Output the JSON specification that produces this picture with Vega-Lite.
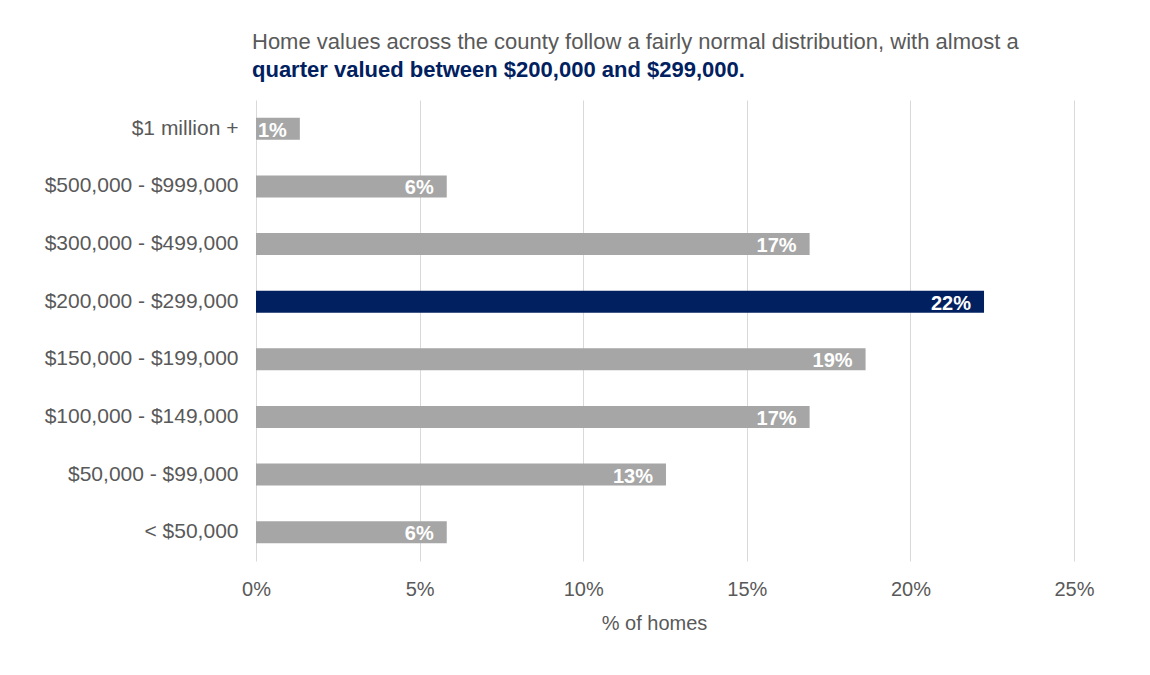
{
  "$schema": "https://vega.github.io/schema/vega-lite/v6.json",
  "autosize": {"type": "none"},
  "padding": {"left": 256, "top": 100, "right": 76, "bottom": 114},
  "width": 818,
  "height": 461,
  "background": "white",
  "title": {
    "text": "Home values across the county follow a fairly normal distribution, with almost a",
    "subtitle": "quarter valued between $200,000 and $299,000.",
    "anchor": "start",
    "frame": "group",
    "dx": -4,
    "offset": 18,
    "font": "Liberation Sans",
    "fontSize": 22,
    "fontWeight": "normal",
    "color": "#595959",
    "subtitleFont": "Liberation Sans",
    "subtitleFontSize": 22,
    "subtitleFontWeight": "bold",
    "subtitleColor": "#002060",
    "subtitlePadding": 6
  },
  "data": {
    "values": [
      {"range": "$1 million +", "pct": 1.34, "label": "1%"},
      {"range": "$500,000 - $999,000", "pct": 5.83, "label": "6%"},
      {"range": "$300,000 - $499,000", "pct": 16.92, "label": "17%"},
      {"range": "$200,000 - $299,000", "pct": 22.25, "label": "22%"},
      {"range": "$150,000 - $199,000", "pct": 18.63, "label": "19%"},
      {"range": "$100,000 - $149,000", "pct": 16.92, "label": "17%"},
      {"range": "$50,000 - $99,000", "pct": 12.53, "label": "13%"},
      {"range": "< $50,000", "pct": 5.83, "label": "6%"}
    ]
  },
  "encoding": {
    "y": {
      "field": "range",
      "type": "nominal",
      "sort": null,
      "title": null,
      "scale": {"paddingInner": 0.62, "paddingOuter": 0.31},
      "axis": {
        "ticks": false,
        "domain": false,
        "labelPadding": 18,
        "labelLimit": 0,
        "labelFont": "Liberation Sans",
        "labelFontSize": 21,
        "labelColor": "#595959"
      }
    },
    "x": {
      "field": "pct",
      "type": "quantitative",
      "scale": {"domain": [0, 25], "nice": false},
      "title": "% of homes",
      "axis": {
        "values": [0, 5, 10, 15, 20, 25],
        "labelExpr": "datum.value + '%'",
        "labelFlush": false,
        "labelOverlap": false,
        "grid": true,
        "gridColor": "#d9d9d9",
        "gridWidth": 1,
        "ticks": false,
        "domain": false,
        "labelPadding": 18,
        "labelFont": "Liberation Sans",
        "labelFontSize": 20,
        "labelColor": "#595959",
        "titleFont": "Liberation Sans",
        "titleFontSize": 20,
        "titleFontWeight": "normal",
        "titleColor": "#595959",
        "titlePadding": 14,
        "titleX": 398,
        "titleAnchor": "middle"
      }
    }
  },
  "layer": [
    {
      "mark": {"type": "bar"},
      "encoding": {
        "color": {
          "condition": {"test": "datum.range === '$200,000 - $299,000'", "value": "#002060"},
          "value": "#a6a6a6"
        }
      }
    },
    {
      "mark": {
        "type": "text",
        "align": "right",
        "baseline": "middle",
        "dx": -13,
        "dy": 2,
        "font": "Liberation Sans",
        "fontSize": 20,
        "fontWeight": "bold",
        "color": "white"
      },
      "encoding": {"text": {"field": "label"}}
    }
  ],
  "config": {"view": {"stroke": null}}
}
